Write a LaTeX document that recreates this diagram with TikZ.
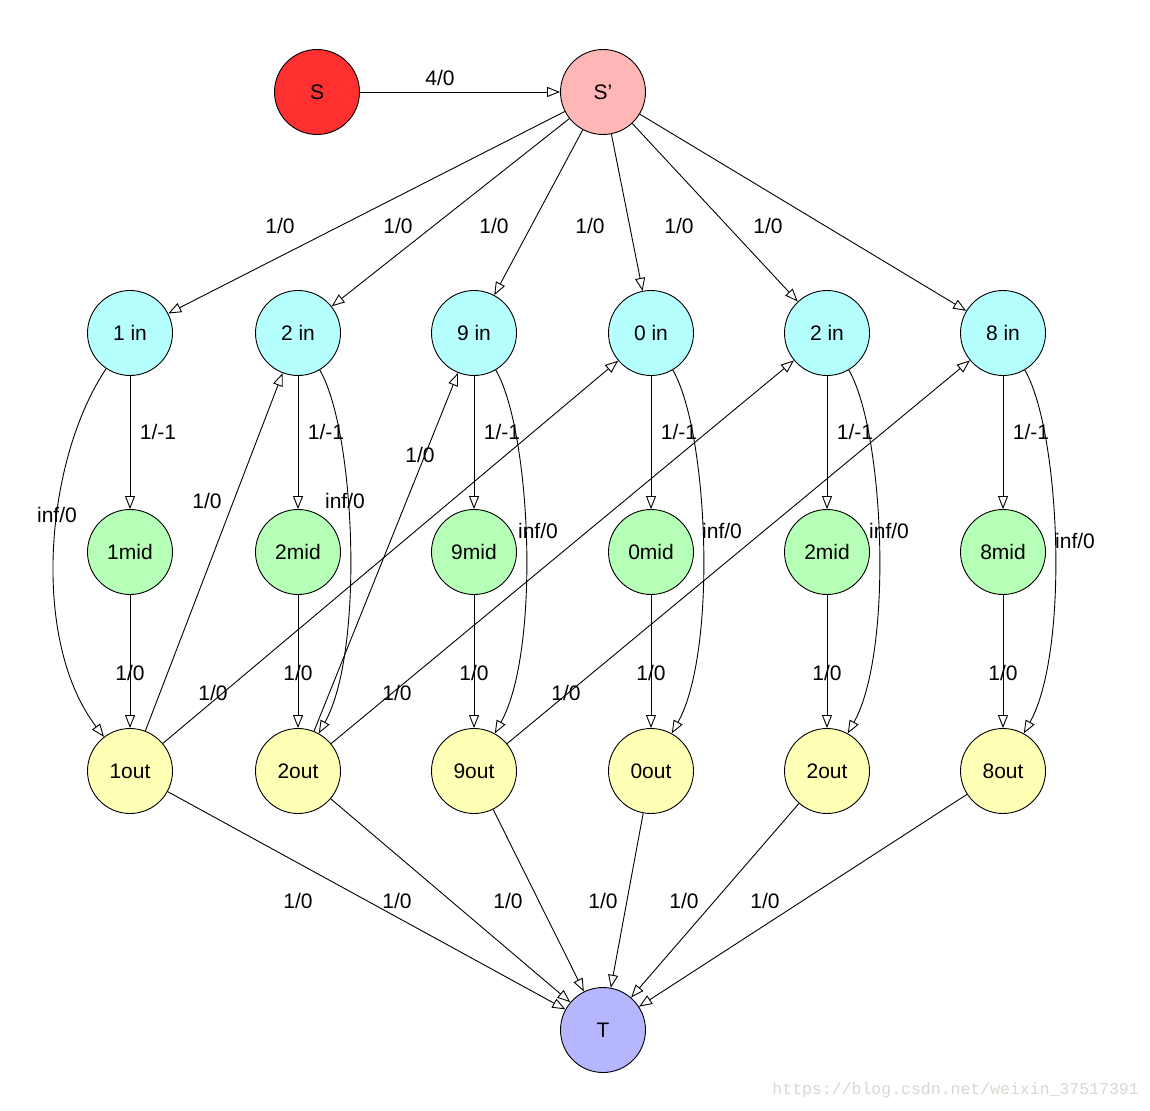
\documentclass[tikz,border=0pt]{standalone}
\usepackage{fontspec}
\setmainfont{Liberation Sans}
\newfontfamily\wmfont{Liberation Mono}
\usetikzlibrary{arrows.meta}
\definecolor{cS}{HTML}{FF3030}
\definecolor{cSp}{HTML}{FFB6B6}
\definecolor{cIn}{HTML}{B6FFFF}
\definecolor{cMid}{HTML}{B6FFB6}
\definecolor{cOut}{HTML}{FFFFB6}
\definecolor{cT}{HTML}{B6B6FF}
\definecolor{cWm}{HTML}{D8D8D2}
\begin{document}
\begin{tikzpicture}[x=1pt,y=-1pt,
  vtx/.style={circle, draw=black, line width=0.9pt, minimum size=85pt, inner sep=0pt, font=\fontsize{21}{25}\selectfont},
  arr/.style={-{Triangle[open,length=13pt,width=10pt]}, line width=0.9pt},
  lbl/.style={font=\fontsize{21}{25}\selectfont, inner sep=0pt}]
\useasboundingbox[fill=white] (0,0) rectangle (1150,1110);

% nodes
\node[vtx, fill=cS] (S) at (317,92) {S};
\node[vtx, fill=cSp] (Sp) at (603,92) {S'};
\node[vtx, fill=cT] (T) at (603,1030) {T};

\foreach \n/\x/\t in {a/130/1, b/298/2, c/474/9, d/651/0, e/827/2, f/1003/8}{
  \node[vtx, fill=cIn]  (in\n)  at (\x,333) {\t\ in};
  \node[vtx, fill=cMid] (mid\n) at (\x,552) {\t mid};
  \node[vtx, fill=cOut] (out\n) at (\x,771) {\t out};
}

% S -> S'
\draw[arr] (S) -- (Sp);
\node[lbl] (lSSp) at (440,78) {4/0};

% S' -> in
\foreach \n/\lx in {a/280, b/398, c/494, d/590, e/679, f/768}{
  \draw[arr] (Sp) -- (in\n);
  \node[lbl] (lsp\n) at (\lx,226) {1/0};
}

% in -> mid, mid -> out
\foreach \n/\x in {a/130, b/298, c/474, d/651, e/827, f/1003}{
  \draw[arr] (in\n) -- (mid\n);
  \node[lbl] (lim\n) at (\x+28,432) {1/-1};
  \draw[arr] (mid\n) -- (out\n);
  \node[lbl] (lmo\n) at (\x,673) {1/0};
}

% in -> out (curved)
\draw[arr] (ina) .. controls (45,460) and (30,640) .. (outa);
\node[lbl] (lioa) at (57,515) {inf/0};
\foreach \n/\x/\lx/\ly in {b/298/345/501, c/474/538/531, d/651/722/531, e/827/889/531, f/1003/1075/541}{
  \draw[arr] (in\n) .. controls (\x+57,430) and (\x+67,650) .. (out\n);
  \node[lbl] (lio\n) at (\lx,\ly) {inf/0};
}

% out -> in (cross)
\draw[arr] (outa) -- (inb);
\node[lbl] (lc1) at (207,501) {1/0};
\draw[arr] (outb) -- (inc);
\node[lbl] (lc2) at (420,455) {1/0};
\draw[arr] (outa) -- (ind);
\node[lbl] (lc3) at (213,693) {1/0};
\draw[arr] (outb) -- (ine);
\node[lbl] (lc4) at (397,693) {1/0};
\draw[arr] (outc) -- (inf);
\node[lbl] (lc5) at (566,693) {1/0};

% out -> T
\foreach \n/\lx in {a/298, b/397, c/508, d/603, e/684, f/765}{
  \draw[arr] (out\n) -- (T);
  \node[lbl] (lt\n) at (\lx,901) {1/0};
}

% watermark
\node[font=\wmfont\fontsize{16.5}{18}\selectfont, text=cWm, inner sep=0pt, anchor=east] (wm) at (1139,1090) {https://blog.csdn.net/weixin\_37517391};
\end{tikzpicture}
\end{document}
